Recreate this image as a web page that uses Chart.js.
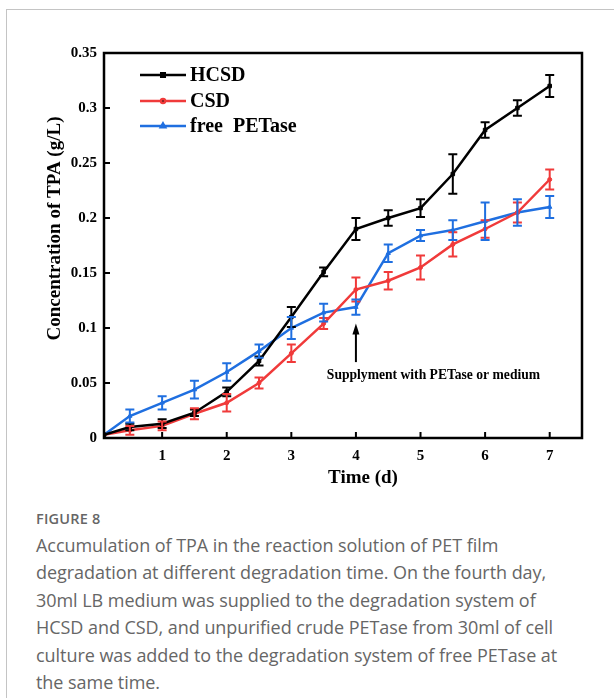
<!DOCTYPE html>
<html>
<head>
<meta charset="utf-8">
<script src="https://cdn.jsdelivr.net/npm/chart.js@4.4.1/dist/chart.umd.min.js"></script>
<style>
  body { margin: 0; background: #fff; width: 614px; height: 698px; overflow: hidden; position: relative; }
  .card { position: absolute; left: 6px; top: 9px; width: 700px; height: 800px; border-top: 1px solid #c4c4c4; border-left: 1px solid #c4c4c4; }
  .plot { position: absolute; left: 0; top: 0; width: 614px; height: 500px; }
  .fig { position: absolute; left: 36px; top: 509px; font-family: "Open Sans", sans-serif; color: #666; font-size: 14.5px; font-weight: 600; letter-spacing: 0.2px; }
  .cap { position: absolute; left: 36px; top: 532px; font-family: "Open Sans", sans-serif; color: #666; font-size: 18px; line-height: 27.4px; white-space: nowrap; letter-spacing: -0.05px; }
</style>
</head>
<body>
<div class="card"></div>
<div class="plot"><canvas id="tpaChart" width="614" height="500"></canvas></div>
<div class="fig">FIGURE 8</div>
<div class="cap">Accumulation of TPA in the reaction solution of PET film<br>degradation at different degradation time. On the fourth day,<br>30ml LB medium was supplied to the degradation system of<br>HCSD and CSD, and unpurified crude PETase from 30ml of cell<br>culture was added to the degradation system of free PETase at<br>the same time.</div>
<script>
// days sampled
const days = [0.1, 0.5, 1, 1.5, 2, 2.5, 3, 3.5, 4, 4.5, 5, 5.5, 6, 6.5, 7];

const hcsd    = [0.003, 0.010, 0.013, 0.023, 0.042, 0.070, 0.110, 0.151, 0.190, 0.200, 0.209, 0.240, 0.280, 0.300, 0.320];
const hcsdErr = [0, 0.003, 0.004, 0.003, 0.004, 0.004, 0.009, 0.004, 0.010, 0.007, 0.008, 0.018, 0.007, 0.007, 0.010];

const csd    = [0.003, 0.007, 0.011, 0.022, 0.032, 0.050, 0.077, 0.104, 0.135, 0.143, 0.155, 0.176, 0.190, 0.205, 0.235];
const csdErr = [0, 0.004, 0.004, 0.005, 0.008, 0.005, 0.008, 0.005, 0.011, 0.008, 0.011, 0.011, 0.008, 0.009, 0.009];

const freePet    = [0.003, 0.020, 0.032, 0.044, 0.060, 0.079, 0.100, 0.114, 0.119, 0.168, 0.184, 0.189, 0.197, 0.205, 0.210];
const freePetErr = [0, 0.006, 0.006, 0.008, 0.008, 0.006, 0.010, 0.008, 0.007, 0.008, 0.005, 0.009, 0.017, 0.012, 0.010];

const xTicks = [1, 2, 3, 4, 5, 6, 7];
const yTicks = [0, 0.05, 0.1, 0.15, 0.2, 0.25, 0.3, 0.35];
const yTickLabels = ['0', '0.05', '0.1', '0.15', '0.2', '0.25', '0.3', '0.35'];

// arrow marking the supplement on day 4
const noteDay = 4;
const noteArrow = [0.069, 0.104];
const noteText = 'Supplyment with PETase or medium';
const noteTextAt = [3.55, 0.057];

const serif = '"Liberation Serif", "Times New Roman", serif';

function toPoints(ys) {
    return days.map((d, i) => ({ x: d, y: ys[i] }));
}

const errors = [hcsdErr, csdErr, freePetErr];

const figurePlugin = {
    id: 'figureBits',
    afterDatasetsDraw(chart) {
        const ctx = chart.ctx;
        const xs = chart.scales.x;
        const ys = chart.scales.y;
        ctx.save();
        // error bars
        chart.data.datasets.forEach((ds, di) => {
            ctx.strokeStyle = ds.borderColor;
            ctx.lineWidth = 2;
            ds.data.forEach((p, i) => {
                const e = errors[di][i];
                if (!e) return;
                const px = xs.getPixelForValue(p.x);
                const top = ys.getPixelForValue(p.y + e);
                const bot = ys.getPixelForValue(p.y - e);
                ctx.beginPath();
                ctx.moveTo(px, top); ctx.lineTo(px, bot);
                ctx.moveTo(px - 4.5, top); ctx.lineTo(px + 4.5, top);
                ctx.moveTo(px - 4.5, bot); ctx.lineTo(px + 4.5, bot);
                ctx.stroke();
            });
        });
        ctx.restore();
    },
    afterDraw(chart) {
        const ctx = chart.ctx;
        const a = chart.chartArea;
        const xs = chart.scales.x;
        const ys = chart.scales.y;
        ctx.save();
        // frame
        ctx.strokeStyle = '#000';
        ctx.lineWidth = 2.5;
        ctx.strokeRect(a.left, a.top, a.right - a.left, a.bottom - a.top);
        // inward ticks
        ctx.beginPath();
        xTicks.forEach(v => {
            const px = xs.getPixelForValue(v);
            ctx.moveTo(px, a.bottom); ctx.lineTo(px, a.bottom - 6);
        });
        yTicks.forEach(v => {
            const py = ys.getPixelForValue(v);
            ctx.moveTo(a.left, py); ctx.lineTo(a.left + 6, py);
        });
        ctx.lineWidth = 2;
        ctx.stroke();

        // axis titles
        ctx.fillStyle = '#000';
        ctx.font = 'bold 19px ' + serif;
        ctx.textAlign = 'center';
        ctx.textBaseline = 'middle';
        ctx.fillText('Time (d)', 363, 478);
        ctx.save();
        ctx.translate(55, (a.top + a.bottom) / 2 - 17);
        ctx.rotate(-Math.PI / 2);
        ctx.fillText('Concentration of TPA (g/L)', 0, 0);
        ctx.restore();

        // legend
        const legendY = [75, 101, 126];
        chart.data.datasets.forEach((ds, i) => {
            const y = legendY[i];
            ctx.strokeStyle = ds.borderColor;
            ctx.lineWidth = 2.5;
            ctx.beginPath();
            ctx.moveTo(140, y); ctx.lineTo(186, y);
            ctx.stroke();
            Chart.helpers.drawPoint(ctx, { pointStyle: ds.pointStyle, radius: ds.pointRadius, borderWidth: 1 }, 163, y);
            ctx.fillStyle = '#000';
            ctx.font = 'bold 20px ' + serif;
            ctx.textAlign = 'left';
            ctx.fillText(ds.label, 190, y + 1);
        });

        // annotation
        const ax = xs.getPixelForValue(noteDay);
        const y0 = ys.getPixelForValue(noteArrow[0]);
        const y1 = ys.getPixelForValue(noteArrow[1]);
        ctx.strokeStyle = '#000';
        ctx.fillStyle = '#000';
        ctx.lineWidth = 2;
        ctx.beginPath();
        ctx.moveTo(ax, y0); ctx.lineTo(ax, y1 + 8);
        ctx.stroke();
        ctx.beginPath();
        ctx.moveTo(ax, y1); ctx.lineTo(ax - 3.5, y1 + 11); ctx.lineTo(ax + 3.5, y1 + 11);
        ctx.closePath();
        ctx.fill();
        ctx.font = 'bold 13.6px ' + serif;
        ctx.textAlign = 'left';
        ctx.fillText(noteText, xs.getPixelForValue(noteTextAt[0]), ys.getPixelForValue(noteTextAt[1]));
        ctx.restore();
    }
};

const ctx = document.getElementById('tpaChart').getContext('2d');
new Chart(ctx, {
    type: 'line',
    data: {
        datasets: [
            {
                label: 'HCSD',
                data: toPoints(hcsd),
                borderColor: '#000000',
                backgroundColor: '#000000',
                borderWidth: 2.5,
                pointStyle: 'rect',
                pointRadius: 2.5,
                pointBorderWidth: 1
            },
            {
                label: 'CSD',
                data: toPoints(csd),
                borderColor: '#f03a3a',
                backgroundColor: '#f03a3a',
                borderWidth: 2.5,
                pointStyle: 'circle',
                pointRadius: 2,
                pointBorderWidth: 1
            },
            {
                label: 'free  PETase',
                data: toPoints(freePet),
                borderColor: '#1f6fe0',
                backgroundColor: '#1f6fe0',
                borderWidth: 2.5,
                pointStyle: 'triangle',
                pointRadius: 2.5,
                pointBorderWidth: 1
            }
        ]
    },
    options: {
        responsive: false,
        animation: false,
        layout: { padding: { left: 0, top: 53, right: 32, bottom: 0 } },
        plugins: {
            legend: { display: false },
            tooltip: { enabled: false }
        },
        scales: {
            x: {
                type: 'linear',
                min: 0.1,
                max: 7.5,
                afterBuildTicks: s => { s.ticks = xTicks.map(v => ({ value: v })); },
                afterFit: s => { s.height = 62; },
                grid: { display: false, drawTicks: false },
                border: { display: false },
                ticks: {
                    color: '#000',
                    font: { family: serif, size: 15, weight: 'bold' },
                    padding: 9,
                    maxRotation: 0,
                    callback: v => String(v)
                }
            },
            y: {
                min: 0,
                max: 0.35,
                afterBuildTicks: s => { s.ticks = yTicks.map(v => ({ value: v })); },
                afterFit: s => { s.width = 104; },
                grid: { display: false, drawTicks: false },
                border: { display: false },
                ticks: {
                    color: '#000',
                    font: { family: serif, size: 15, weight: 'bold' },
                    padding: 7,
                    callback: (v, i) => yTickLabels[i]
                }
            }
        }
    },
    plugins: [figurePlugin]
});
</script>
</body>
</html>
